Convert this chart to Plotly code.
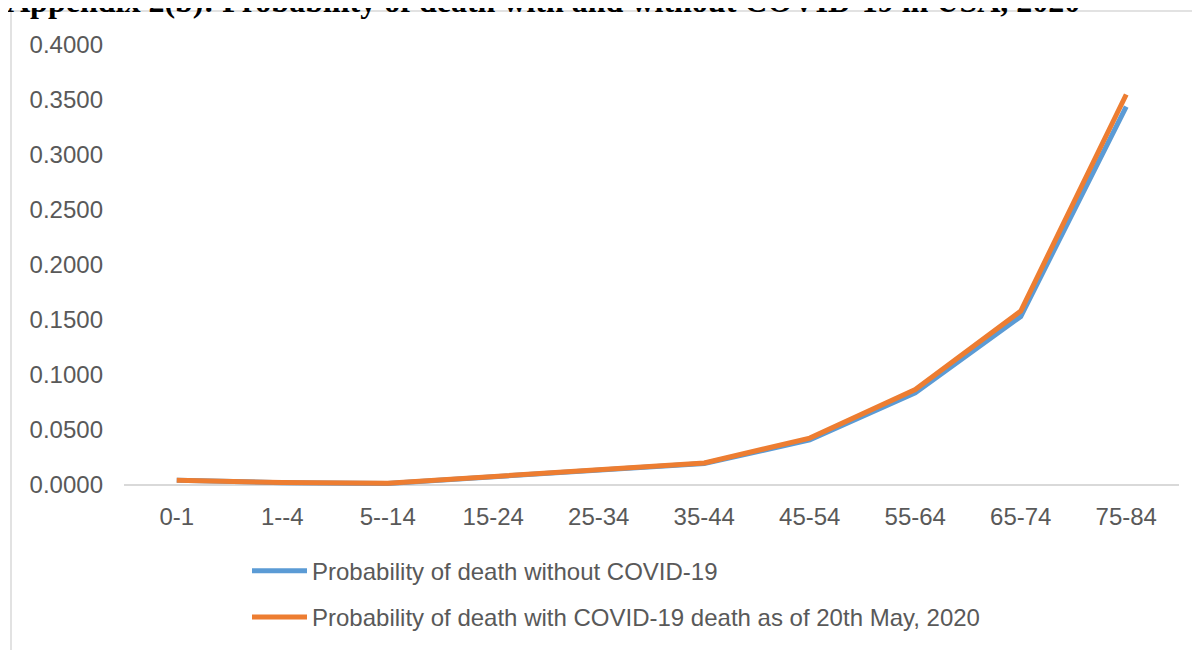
import plotly.graph_objects as go

categories = ["0-1", "1--4", "5--14", "15-24", "25-34", "35-44", "45-54", "55-64", "65-74", "75-84"]
without_covid = [0.0040, 0.0018, 0.0012, 0.0073, 0.0128, 0.0193, 0.0407, 0.0836, 0.1530, 0.3440]
with_covid = [0.0041, 0.0019, 0.0013, 0.0075, 0.0131, 0.0198, 0.0424, 0.0866, 0.1580, 0.3550]
y_ticks = [0.0, 0.05, 0.10, 0.15, 0.20, 0.25, 0.30, 0.35, 0.40]
y_tick_text = ["0.0000", "0.0500", "0.1000", "0.1500", "0.2000", "0.2500", "0.3000", "0.3500", "0.4000"]
name_without = "Probability of death without COVID-19"
name_with = "Probability of death with COVID-19 death as of 20th May, 2020"
title_text = "Appendix 2(b): Probability of death with and without COVID-19 in USA, 2020"

# The page body adds an 8px offset, so figure coordinates are screen - 8
W, H = 1200, 650
L, R = 116, 1171
Y0PX, Y4PX = 477, 37
ymin = -0.003
bottom_px = Y0PX + (0 - ymin) / 0.4 * (Y0PX - Y4PX)


def px_x(x):
    return (x - L) / (R - L)


def px_y(y):
    return (bottom_px - y) / (bottom_px - Y4PX)


fig = go.Figure()
fig.add_trace(go.Scatter(x=categories, y=without_covid, mode="lines", name=name_without,
                         line=dict(color="#5B9BD5", width=5), legendgroup="a"))
fig.add_trace(go.Scatter(x=categories, y=with_covid, mode="lines", name=name_with,
                         line=dict(color="#ED7D31", width=5), legendgroup="b"))

font_family = "Liberation Sans, Arial, sans-serif"
fig.update_layout(
    template="none",
    width=W, height=H,
    margin=dict(l=L, r=W - R, t=Y4PX, b=H - bottom_px, pad=0, autoexpand=False),
    paper_bgcolor="white", plot_bgcolor="white",
    font=dict(family=font_family, size=24, color="#595959"),
    showlegend=True,
    legend=dict(x=px_x(239), y=px_y(541), xanchor="left", yanchor="top",
                font=dict(size=24, color="#595959"), tracegroupgap=12,
                bgcolor="rgba(0,0,0,0)", borderwidth=0, itemwidth=55),
    xaxis=dict(range=[-0.5, 9.5], showgrid=False, zeroline=False, showline=False, automargin=False,
               ticks="", tickfont=dict(size=24, color="#595959"), ticklabelstandoff=12),
    yaxis=dict(range=[ymin, 0.4], tickvals=y_ticks, ticktext=y_tick_text, showgrid=False, automargin=False,
               zeroline=True, zerolinecolor="#D9D9D9", zerolinewidth=1.5, showline=False,
               ticks="", tickfont=dict(size=24, color="#595959"), ticklabelstandoff=20),
    shapes=[dict(type="rect", xref="paper", yref="paper",
                 x0=px_x(3), x1=px_x(1220), y0=px_y(3), y1=px_y(680),
                 line=dict(color="#D9D9D9", width=1.5), fillcolor="rgba(0,0,0,0)", layer="below")],
    annotations=[dict(text="<b>" + title_text + "</b>", xref="paper", yref="paper",
                      x=px_x(-3), y=px_y(-7), xanchor="left", yanchor="middle", showarrow=False,
                      font=dict(family="Liberation Serif, Times New Roman, serif", size=32, color="black"))],
)

fig.write_html("out.html")
